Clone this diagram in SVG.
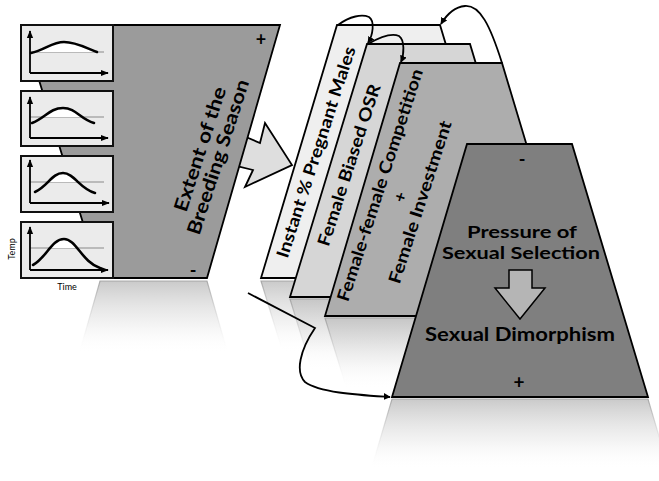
<svg xmlns="http://www.w3.org/2000/svg" width="659" height="481" viewBox="0 0 659 481">
<defs>
<style>
.shape{stroke:#000;stroke-width:1.8;stroke-linejoin:miter}
.box{fill:#ebebeb;stroke:#111;stroke-width:2}
.axis{fill:none;stroke:#000;stroke-width:1.8}
.thr{fill:none;stroke:#8a8a8a;stroke-width:1.2}
.curve{fill:none;stroke:#000;stroke-width:2.6;stroke-linecap:round}
.wfill{fill:#fff;stroke:none}
.lbl{font-family:Lato,"Open Sans","DejaVu Sans",sans-serif;font-weight:700;fill:#000}
.small{font-family:Lato,"Open Sans","DejaVu Sans",sans-serif;font-size:9px;fill:#000}
.refl{fill:url(#reflG);stroke:url(#reflS);stroke-width:1.2}
.conn{fill:none;stroke:#000;stroke-width:1.8}
</style>
<linearGradient id="reflG" x1="0" y1="0" x2="0" y2="1">
<stop offset="0" stop-color="#c4c4c4" stop-opacity="0.9"/>
<stop offset="0.6" stop-color="#e8e8e8" stop-opacity="0.5"/>
<stop offset="1" stop-color="#ffffff" stop-opacity="0"/>
</linearGradient>
<linearGradient id="reflS" x1="0" y1="0" x2="0" y2="1">
<stop offset="0" stop-color="#999" stop-opacity="0.8"/>
<stop offset="1" stop-color="#fff" stop-opacity="0"/>
</linearGradient>
<marker id="ah" viewBox="0 0 10 10" refX="9" refY="5" markerWidth="7" markerHeight="7" markerUnits="userSpaceOnUse" orient="auto">
<path d="M0,0 L10,5 L0,10 Z" fill="#000"/>
</marker>
<marker id="ax" viewBox="0 0 10 10" refX="9" refY="5" markerWidth="8" markerHeight="8" markerUnits="userSpaceOnUse" orient="auto">
<path d="M0,1 L10,5 L0,9 Z" fill="#000"/>
</marker>
<clipPath id="c1"><rect x="21" y="25" width="92" height="27"/></clipPath>
<clipPath id="c2"><rect x="21" y="91" width="92" height="26"/></clipPath>
<clipPath id="c3"><rect x="21" y="156" width="92" height="26"/></clipPath>
<clipPath id="c4"><rect x="21" y="222" width="92" height="26"/></clipPath>
</defs>

<!-- reflections -->
<g id="reflections">
<polygon class="refl" points="100,281 207,281 228,354 79,354"/>
<polygon class="refl" points="261,281 516,281 494,353 283,353"/>
</g>

<!-- big arrow -->
<g id="arrow-right">
<polygon points="246,137 260,143 265,123 292,165 245,187 253,170 237,166" fill="#dedede" stroke="#000" stroke-width="1.8" stroke-linejoin="miter"/>
</g>

<!-- left node -->
<g id="breeding-season">
<polygon class="shape" points="22,25 280,25 207,278 100,278" fill="#9b9b9b"/>
<text class="lbl" font-size="19" text-anchor="middle" transform="translate(200,149) rotate(-72)" dy="0.35em" textLength="130" lengthAdjust="spacingAndGlyphs">Extent of the</text>
<text class="lbl" font-size="19" text-anchor="middle" transform="translate(218,157) rotate(-72)" dy="0.35em" textLength="162" lengthAdjust="spacingAndGlyphs">Breeding Season</text>
<text class="lbl" font-size="18" text-anchor="middle" x="261" y="46">+</text>
<text class="lbl" font-size="18" text-anchor="middle" x="193" y="277">-</text>
</g>

<!-- graphs -->
<g id="graph1">
<rect class="box" x="21" y="25" width="92" height="56"/>
<line class="thr" x1="30" y1="52" x2="104" y2="52"/>
<path class="wfill" clip-path="url(#c1)" d="M31,53 C45,50 52,42 64,42 S86,48 97,52 L97,60 L31,60 Z"/>
<path class="curve" d="M31,53 C45,50 52,42 64,42 S86,48 97,52"/>
<line class="axis" x1="30" y1="73" x2="30" y2="31" marker-end="url(#ax)"/>
<line class="axis" x1="30" y1="73" x2="108" y2="73" marker-end="url(#ax)"/>
</g>
<g id="graph2">
<rect class="box" x="21" y="91" width="92" height="55"/>
<line class="thr" x1="30" y1="117" x2="104" y2="117"/>
<path class="wfill" clip-path="url(#c2)" d="M32,123 C45,118 50,108 63,108 S80,119 94,123 Z"/>
<path class="curve" d="M32,123 C45,118 50,108 63,108 S80,119 94,123"/>
<line class="axis" x1="30" y1="138" x2="30" y2="97" marker-end="url(#ax)"/>
<line class="axis" x1="30" y1="138" x2="108" y2="138" marker-end="url(#ax)"/>
</g>
<g id="graph3">
<rect class="box" x="21" y="156" width="92" height="56"/>
<line class="thr" x1="30" y1="182" x2="104" y2="182"/>
<path class="wfill" clip-path="url(#c3)" d="M35,192 C48,186 52,173 63,173 S80,189 95,193 Z"/>
<path class="curve" d="M35,192 C48,186 52,173 63,173 S80,189 95,193"/>
<line class="axis" x1="30" y1="203" x2="30" y2="160" marker-end="url(#ax)"/>
<line class="axis" x1="30" y1="203" x2="109" y2="203" marker-end="url(#ax)"/>
</g>
<g id="graph4">
<rect class="box" x="21" y="222" width="92" height="56"/>
<line class="thr" x1="30" y1="248" x2="104" y2="248"/>
<path class="wfill" clip-path="url(#c4)" d="M33,265 C46,258 52,239 64,239 S82,262 100,268 Z"/>
<path class="curve" d="M33,265 C46,258 52,239 64,239 S82,262 100,268"/>
<line class="axis" x1="30" y1="270" x2="30" y2="227" marker-end="url(#ax)"/>
<line class="axis" x1="30" y1="270" x2="108" y2="270" marker-end="url(#ax)"/>
</g>
<text class="small" transform="translate(15,249) rotate(-90)" text-anchor="middle">Temp</text>
<text class="small" x="67" y="290" text-anchor="middle">Time</text>

<!-- stacked nodes -->
<g id="pregnant-males">
<polygon class="shape" points="337,25 440,25 516,278 261,278" fill="#efefef"/>
<text class="lbl" font-size="17" text-anchor="middle" transform="translate(316,152) rotate(-72)" dy="0.35em" textLength="221" lengthAdjust="spacingAndGlyphs">Instant % Pregnant Males</text>
</g>
<polygon class="refl" points="290,299 546,299 524,371 312,371"/>
<g id="female-biased-osr">
<polygon class="shape" points="367,44 470,44 546,297 290,297" fill="#d6d6d6"/>
<text class="lbl" font-size="17" text-anchor="middle" transform="translate(349,165) rotate(-72)" dy="0.35em" textLength="169" lengthAdjust="spacingAndGlyphs">Female Biased OSR</text>
</g>
<polygon class="refl" points="325,318 578,318 556,390 347,390"/>
<g id="competition-investment">
<polygon class="shape" points="400,63 502,63 578,316 325,316" fill="#adadad"/>
<text class="lbl" font-size="17" text-anchor="middle" transform="translate(380,185) rotate(-72)" dy="0.35em" textLength="243" lengthAdjust="spacingAndGlyphs">Female-female Competition</text>
<text class="lbl" font-size="17" text-anchor="middle" transform="translate(400,197) rotate(-72)" dy="0.35em">+</text>
<text class="lbl" font-size="17" text-anchor="middle" transform="translate(420,202) rotate(-72)" dy="0.35em" textLength="170" lengthAdjust="spacingAndGlyphs">Female Investment</text>
</g>
<polygon class="refl" points="392,399 648,399 669,470 371,470"/>
<g id="sexual-selection">
<polygon class="shape" points="467,144 572,144 648,397 392,397" fill="#7f7f7f"/>
<text class="lbl" font-size="18" text-anchor="middle" x="522" y="166">-</text>
<text class="lbl" font-size="17" text-anchor="middle" x="522" y="238" textLength="110" lengthAdjust="spacingAndGlyphs">Pressure of</text>
<text class="lbl" font-size="17" text-anchor="middle" x="521" y="259" textLength="158" lengthAdjust="spacingAndGlyphs">Sexual Selection</text>
<polygon points="509,270 532,270 532,288 545,288 520,319 495,288 509,288" fill="#b5b5b5" stroke="#000" stroke-width="1.5"/>
<text class="lbl" font-size="19" text-anchor="middle" x="520" y="341" textLength="190" lengthAdjust="spacingAndGlyphs">Sexual Dimorphism</text>
<text class="lbl" font-size="19" text-anchor="middle" x="519" y="389">+</text>
</g>

<!-- connectors -->
<g id="connectors">
<path class="conn" d="M502,63 C490,25 480,5 465,6 C455,7 447,14 441,24" marker-end="url(#ah)"/>
<path class="conn" d="M338,25 C350,16 362,14 369,17 C375,21 373,35 368,43" marker-end="url(#ah)"/>
<path class="conn" d="M368,44 C380,37 392,33 399,36 C405,40 404,55 401,62" marker-end="url(#ah)"/>
<path class="conn" d="M248,293 L315,328 C300,350 295,372 305,382 C320,393 360,395 390,397" marker-end="url(#ah)"/>
</g>
</svg>
